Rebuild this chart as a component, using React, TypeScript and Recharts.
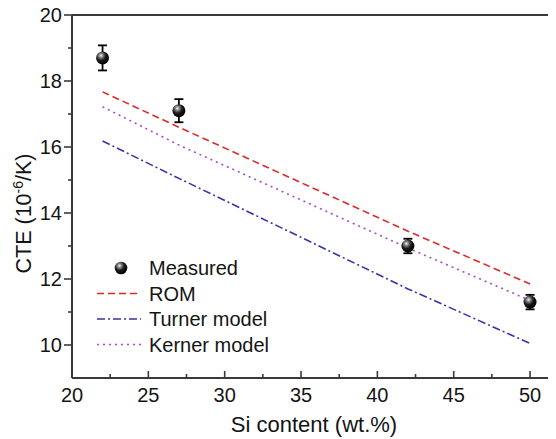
import React from 'react';
import { ComposedChart, Line, Scatter, XAxis, YAxis, ErrorBar, Legend, ReferenceLine } from 'recharts';

// ---- Data ----
const siContent = [22, 27, 42, 50];
const measuredCTE = [18.7, 17.1, 13.0, 11.3];
const measuredErr = [0.38, 0.35, 0.22, 0.22];

const modelSi = [22, 27, 42, 50];
const romCTE = [17.67, 16.6, 13.45, 11.85];
const turnerCTE = [16.18, 15.05, 11.7, 10.05];
const kernerCTE = [17.22, 16.06, 12.94, 11.35];

const xTicks = [20, 22.5, 25, 27.5, 30, 32.5, 35, 37.5, 40, 42.5, 45, 47.5, 50];
const yTicks = [10, 11, 12, 13, 14, 15, 16, 17, 18, 19, 20];
const seriesNames = ['Measured', 'ROM', 'Turner model', 'Kerner model'];

const measured = siContent.map((x, i) => ({ x, y: measuredCTE[i], err: measuredErr[i] }));
const rom = modelSi.map((x, i) => ({ x, y: romCTE[i] }));
const turner = modelSi.map((x, i) => ({ x, y: turnerCTE[i] }));
const kerner = modelSi.map((x, i) => ({ x, y: kernerCTE[i] }));

const FONT = '"Liberation Sans", Arial, Helvetica, sans-serif';
const AXIS = '#3a3a3a';
const ROM_C = '#dc2a2a';
const TURNER_C = '#3535a8';
const KERNER_C = '#a04ec4';
const TICK_MARGIN = 2;

const XTick = (props: any) => {
  const { x, y, payload } = props;
  const v = payload.value;
  const major = v % 5 === 0;
  const axisY = y - TICK_MARGIN;
  return (
    <g>
      <line x1={x} x2={x} y1={axisY} y2={axisY - (major ? 7 : 4)} stroke={AXIS} strokeWidth={1.6} />
      {major && (
        <text x={x} y={axisY + 24} textAnchor="middle" fontSize={20} fontFamily={FONT} fill="#141414">
          {v}
        </text>
      )}
    </g>
  );
};

const YTick = (props: any) => {
  const { x, y, payload } = props;
  const v = payload.value;
  const major = v % 2 === 0;
  const axisX = x + TICK_MARGIN;
  return (
    <g>
      <line x1={axisX} x2={axisX - (major ? 8 : 4)} y1={y} y2={y} stroke={AXIS} strokeWidth={1.6} />
      {major && (
        <text x={axisX - 10} y={y + 7} textAnchor="end" fontSize={20} fontFamily={FONT} fill="#141414">
          {v}
        </text>
      )}
    </g>
  );
};

const BallDef = () => (
  <defs>
    <radialGradient id="ballGrad" cx="38%" cy="32%" r="68%">
      <stop offset="0%" stopColor="#f4f4f4" />
      <stop offset="22%" stopColor="#8a8a8a" />
      <stop offset="55%" stopColor="#1a1a1a" />
      <stop offset="100%" stopColor="#000" />
    </radialGradient>
  </defs>
);

const Ball = (props: any) => {
  const { cx, cy } = props;
  return (
    <g>
      <BallDef />
      <circle cx={cx} cy={cy} r={6.5} fill="url(#ballGrad)" />
    </g>
  );
};

const renderLegend = () => {
  const rowH = 25.5;
  const styles = [
    null,
    { stroke: ROM_C, dash: '7 4' },
    { stroke: TURNER_C, dash: '8 3 2 3' },
    { stroke: KERNER_C, dash: '2 4' },
  ];
  return (
    <svg width={220} height={rowH * 4 + 4} style={{ display: 'block' }}>
      <BallDef />
      {seriesNames.map((name, i) => {
        const cy = rowH * i + 13;
        const s = styles[i];
        return (
          <g key={name}>
            {s ? (
              <line x1={0} x2={44} y1={cy} y2={cy} stroke={s.stroke} strokeWidth={1.6} strokeDasharray={s.dash} />
            ) : (
              <circle cx={24} cy={cy} r={6.3} fill="url(#ballGrad)" />
            )}
            <text x={52} y={cy + 7} fontSize={20} fontFamily={FONT} fill="#141414">
              {name}
            </text>
          </g>
        );
      })}
    </svg>
  );
};

const YLabel = (props: any) => {
  const { viewBox } = props;
  const cy = viewBox.y + viewBox.height / 2 + 17;
  const x = 23;
  return (
    <text
      x={x}
      y={cy}
      transform={`rotate(-90, ${x}, ${cy})`}
      textAnchor="middle"
      fontSize={21.5}
      fontFamily={FONT}
      fill="#141414"
    >
      <tspan>CTE (10</tspan>
      <tspan dy={-8} fontSize={14}>-6</tspan>
      <tspan dy={8}>/K)</tspan>
    </text>
  );
};

export default function App() {
  return (
    <div style={{ width: 548, height: 439, marginTop: -8, fontFamily: FONT }}>
      <ComposedChart width={548} height={439} margin={{ top: 15, right: 0, left: 0, bottom: 0 }}>
        <XAxis
          type="number"
          dataKey="x"
          domain={[20, 51.7]}
          allowDataOverflow
          ticks={xTicks}
          interval={0}
          tickSize={0}
          tickMargin={TICK_MARGIN}
          tick={<XTick />}
          tickLine={false}
          axisLine={{ stroke: AXIS, strokeWidth: 2 }}
          height={61}
          label={{
            value: 'Si content (wt.%)',
            position: 'insideBottom',
            offset: 7,
            fontSize: 22,
            fontFamily: FONT,
            fill: '#141414',
          }}
        />
        <YAxis
          type="number"
          domain={[9, 20]}
          allowDataOverflow
          ticks={yTicks}
          interval={0}
          width={64}
          tickSize={0}
          tickMargin={TICK_MARGIN}
          tick={<YTick />}
          tickLine={false}
          axisLine={{ stroke: AXIS, strokeWidth: 2 }}
          label={<YLabel />}
        />
        <ReferenceLine y={20} stroke={AXIS} strokeWidth={2} />
        <Line
          data={rom}
          dataKey="y"
          name={seriesNames[1]}
          stroke={ROM_C}
          strokeWidth={1.6}
          strokeDasharray="7 4"
          dot={false}
          activeDot={false}
          isAnimationActive={false}
        />
        <Line
          data={turner}
          dataKey="y"
          name={seriesNames[2]}
          stroke={TURNER_C}
          strokeWidth={1.6}
          strokeDasharray="8 3 2 3"
          dot={false}
          activeDot={false}
          isAnimationActive={false}
        />
        <Line
          data={kerner}
          dataKey="y"
          name={seriesNames[3]}
          stroke={KERNER_C}
          strokeWidth={1.6}
          strokeDasharray="2 4"
          dot={false}
          activeDot={false}
          isAnimationActive={false}
        />
        <Scatter data={measured} dataKey="y" name={seriesNames[0]} shape={<Ball />} isAnimationActive={false}>
          <ErrorBar dataKey="err" direction="y" width={4.5} strokeWidth={1.8} stroke="#000" />
        </Scatter>
        <Legend
          layout="vertical"
          align="center"
          verticalAlign="middle"
          content={renderLegend}
          wrapperStyle={{ position: 'absolute', left: 89, top: 255, width: 220 }}
        />
      </ComposedChart>
    </div>
  );
}
